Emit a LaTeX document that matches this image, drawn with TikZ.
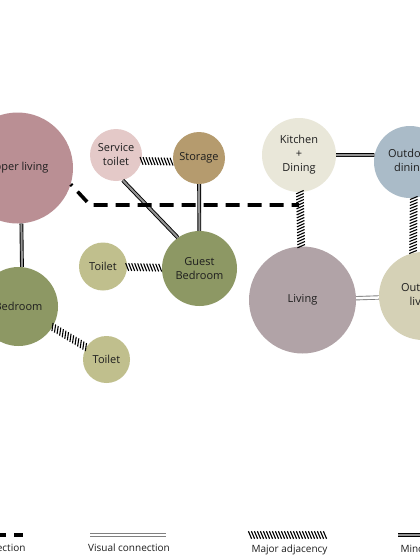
\documentclass[tikz,border=0pt]{standalone}
\usepackage{fontspec}
\setmainfont{Open Sans}
\usetikzlibrary{decorations.markings}
\definecolor{cUpper}{RGB}{186,143,148}
\definecolor{cSToilet}{RGB}{228,201,200}
\definecolor{cStorage}{RGB}{181,155,110}
\definecolor{cKitchen}{RGB}{233,231,217}
\definecolor{cODining}{RGB}{170,187,200}
\definecolor{cBed}{RGB}{141,152,100}
\definecolor{cToilet}{RGB}{192,191,141}
\definecolor{cLiving}{RGB}{177,163,167}
\definecolor{cOLiving}{RGB}{213,209,182}
\definecolor{cText}{RGB}{30,30,30}
\tikzset{
  room/.style={circle, inner sep=0pt, align=center, text=cText,
    font=\fontsize{11}{14}\selectfont},
  minadj/.style={draw=black, line width=0.9pt, double=gray!85, double distance=2pt},
  visconn/.style={draw=gray, line width=0.9pt, double=white, double distance=2.5pt},
  majadj/.style={postaction={decorate}, decoration={markings,
    mark=between positions 0 and 1 step 3pt with
    {\draw[black, line width=1.1pt, line cap=butt] (-1.6pt,3.8pt) -- (1.6pt,-3.8pt);}}},
  indconn/.style={draw=black, line width=3.6pt, dash pattern=on 14pt off 8pt},
  legendtext/.style={text=cText, font=\fontsize{10}{12}\selectfont}
}
\begin{document}
\begin{tikzpicture}[x=1pt, y=-1pt]
\useasboundingbox (0,0) rectangle (420,560);
\clip (0,0) rectangle (420,560);
\fill[white] (0,0) rectangle (420,560);

% rooms
\node[room, fill=cUpper, minimum size=111pt] (upper) at (17.5,168) {Upper living};
\node[room, fill=cSToilet, minimum size=52pt] (stoilet) at (116,155) {Service\\toilet};
\node[room, fill=cStorage, minimum size=52pt] (storage) at (199,158) {Storage};
\node[room, fill=cKitchen, minimum size=74pt] (kitchen) at (299,155) {Kitchen\\+\\Dining};
\node[room, fill=cODining, minimum size=72pt] (odin) at (410,162) {Outdoor\\dining};
\node[room, fill=cBed, minimum size=75pt] (guest) at (199.5,268.5) {Guest\\Bedroom};
\node[room, fill=cToilet, minimum size=48pt] (toiletA) at (103,266.5) {Toilet};
\node[room, fill=cBed, minimum size=79pt] (bedroom) at (18.5,306.5) {Bedroom};
\node[room, fill=cToilet, minimum size=47pt] (toiletB) at (106.5,359.5) {Toilet};
\node[room, fill=cLiving, minimum size=107pt] (living) at (302.5,300) {Living};
\node[room, fill=cOLiving, minimum size=88pt] (oliv) at (423,296) {Outdoor\\living};

% connectors
\draw[minadj] (upper.-86) -- (bedroom.85);
\path[majadj] (stoilet.-13) -- (storage.188);
\draw[minadj] (stoilet.-75) -- (guest.125);
\draw[minadj] (storage) -- (guest);
\path[majadj] (toiletA) -- (guest);
\path[majadj] (bedroom) -- (toiletB);
\draw[minadj] (kitchen.east) -- (odin.169);
\path[majadj] (kitchen) -- (living);
\path[majadj] (odin.-84) -- (oliv.103);
\draw[visconn] (living) -- (oliv);

\coordinate (bend) at (90,205);
\coordinate (dashend) at (299,205);
\draw[indconn, dash phase=12pt] (upper.-17) -- (bend) -- (dashend);

% legend
\coordinate (la1) at (-30,535); \coordinate (la2) at (23,535);
\draw[indconn, dash phase=0pt] (la1) -- (la2);
\node[legendtext, anchor=east] (lt1) at (29,548) {Indirect connection};

\coordinate (lb1) at (90,535); \coordinate (lb2) at (166,535);
\draw[visconn] (lb1) -- (lb2);
\node[legendtext] (lt2) at (129,548) {Visual connection};

\coordinate (lc1) at (250,535); \coordinate (lc2) at (325,535);
\path[majadj] (lc1) -- (lc2);
\node[legendtext] (lt3) at (289.5,550) {Major adjacency};

\coordinate (ld1) at (398,535); \coordinate (ld2) at (450,535);
\draw[minadj] (ld1) -- (ld2);
\node[legendtext, anchor=west] (lt4) at (397,550) {Minor adjacency};
\end{tikzpicture}
\end{document}
